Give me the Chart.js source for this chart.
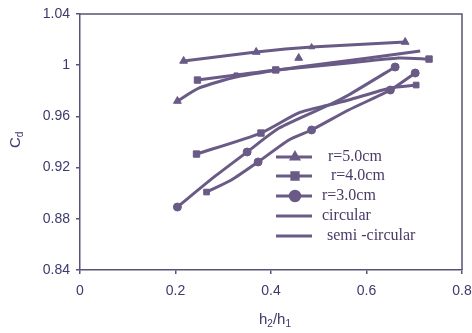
<!DOCTYPE html>
<html>
<head>
<meta charset="utf-8">
<script src="https://cdn.jsdelivr.net/npm/chart.js@4/dist/chart.umd.min.js"></script>
<style>
  html, body { margin: 0; padding: 0; background: #fff; }
  #wrap { width: 472px; height: 333px; position: relative; }
</style>
</head>
<body>
<div id="wrap"><canvas id="c"></canvas></div>
<script>
// Discharge coefficient Cd against depth ratio h2/h1

// Axis ticks
const xTicks = [0, 0.2, 0.4, 0.6, 0.8];
const xTickLabels = ['0', '0.2', '0.4', '0.6', '0.8'];
const yTicks = [0.84, 0.88, 0.92, 0.96, 1.0, 1.04];
const yTickLabels = ['0.84', '0.88', '0.92', '0.96', '1', '1.04'];

// r = 5.0 cm
const r5X = [0.217, 0.369, 0.485, 0.681];
const r5Y = [1.0033, 1.0103, 1.0142, 1.0181];
const r5ExtraX = [0.458];
const r5ExtraY = [1.0056];

// r = 4.0 cm
const r4X = [0.246, 0.327, 0.410, 0.5625, 0.667, 0.731];
const r4Y = [0.9884, 0.9923, 0.9963, 1.0017, 1.0056, 1.0048];
const r4LowX = [0.244, 0.379, 0.458, 0.521, 0.5625, 0.650, 0.704];
const r4LowY = [0.9306, 0.9470, 0.9627, 0.9689, 0.9728, 0.9822, 0.9845];

// r = 3.0 cm
const r3X = [0.204, 0.281, 0.350, 0.417, 0.521, 0.5625, 0.660];
const r3Y = [0.8892, 0.9127, 0.9322, 0.9509, 0.9689, 0.9767, 0.9986];

// circular
const circX = [0.204, 0.250, 0.327, 0.458, 0.604, 0.7125];
const circY = [0.9720, 0.9822, 0.9908, 0.9986, 1.0056, 1.0111];

// semi-circular
const semiX = [0.265, 0.317, 0.373, 0.4375, 0.485, 0.5625, 0.650, 0.702];
const semiY = [0.9009, 0.9103, 0.9244, 0.9416, 0.9494, 0.9650, 0.9806, 0.9939];

const pts = (xs, ys) => xs.map((x, i) => ({ x: x, y: ys[i] }));

const LINE = '#6a5a86';
const INK = '#3d3a6c';

const base = {
  borderColor: LINE,
  backgroundColor: LINE,
  borderWidth: 3,
  pointBorderWidth: 1,
  pointBorderColor: LINE,
  pointBackgroundColor: LINE,
  tension: 0.2,
  fill: false
};

const datasets = [
  Object.assign({}, base, { label: 'r=5.0cm', data: pts(r5X, r5Y), pointStyle: 'triangle', pointRadius: [4.5, 4.5, 3.5, 4.5] }),
  Object.assign({}, base, { label: 'r=4.0cm', data: pts(r4X, r4Y), pointStyle: 'rect', pointRadius: [4.5, 3, 4.5, 0, 0, 4.5] }),
  Object.assign({}, base, { label: 'r=3.0cm', data: pts(r3X, r3Y), pointStyle: 'circle', pointRadius: [4, 0, 4, 0, 0, 0, 4] }),
  Object.assign({}, base, { label: 'circular', data: pts(circX, circY), pointStyle: 'triangle', pointRadius: [4.5, 0, 0, 0, 0, 0] }),
  Object.assign({}, base, { label: 'semi -circular', data: pts(semiX, semiY),
    pointStyle: ['rect', 'circle', 'circle', 'circle', 'circle', 'circle', 'circle', 'circle'],
    pointRadius: [4, 0, 4, 0, 4, 0, 4, 4] }),
  Object.assign({}, base, { label: '', data: pts(r4LowX, r4LowY), pointStyle: 'rect', pointRadius: [4.5, 4.5, 0, 0, 0, 0, 4] }),
  Object.assign({}, base, { label: '', data: pts(r5ExtraX, r5ExtraY), showLine: false, pointStyle: 'triangle', pointRadius: 4.5 })
];

// Legend inside the plot, drawn from the named datasets
const legendRows = [157, 176, 196, 216, 236];
const legendTextX = [328, 331, 322, 322, 327];
const insideLegend = {
  id: 'insideLegend',
  afterDatasetsDraw(chart) {
    const ctx = chart.ctx;
    ctx.save();
    for (let i = 0; i < 5; i++) {
      const ds = chart.data.datasets[i];
      const y = legendRows[i];
      ctx.strokeStyle = ds.borderColor;
      ctx.lineWidth = 3;
      ctx.beginPath();
      ctx.moveTo(276, y);
      ctx.lineTo(312, y);
      ctx.stroke();
      if (i < 3) {
        ctx.fillStyle = LINE;
        ctx.strokeStyle = LINE;
        ctx.lineWidth = 1.5;
        Chart.helpers.drawPoint(ctx, { pointStyle: ds.pointStyle, radius: 5.5, borderWidth: 1.5 }, 295, y);
      }
      ctx.fillStyle = '#4a3a66';
      ctx.font = '16px "Liberation Serif", "Times New Roman", serif';
      ctx.textBaseline = 'middle';
      ctx.textAlign = 'left';
      ctx.fillText(ds.label, legendTextX[i], y);
    }
    ctx.restore();
  }
};

// Frame on top and right, plus axis titles with subscripts
const frameAndTitles = {
  id: 'frameAndTitles',
  afterDraw(chart) {
    const ctx = chart.ctx;
    const a = chart.chartArea;
    ctx.save();
    ctx.strokeStyle = '#5a5278';
    ctx.lineWidth = 1.5;
    ctx.beginPath();
    ctx.moveTo(a.left, a.top);
    ctx.lineTo(a.right, a.top);
    ctx.lineTo(a.right, a.bottom);
    ctx.stroke();

    ctx.fillStyle = INK;
    ctx.textBaseline = 'alphabetic';
    ctx.textAlign = 'left';
    const big = '15px "Liberation Sans", Arial, sans-serif';
    const small = '10px "Liberation Sans", Arial, sans-serif';

    // x title: h2/h1
    let x = 259, y = 324;
    ctx.font = big; ctx.fillText('h', x, y); x += ctx.measureText('h').width;
    ctx.font = small; ctx.fillText('2', x, y + 3); x += ctx.measureText('2').width;
    ctx.font = big; ctx.fillText('/h', x, y); x += ctx.measureText('/h').width;
    ctx.font = small; ctx.fillText('1', x, y + 3);

    // y title: Cd, rotated
    ctx.translate(20, 148);
    ctx.rotate(-Math.PI / 2);
    ctx.font = big; ctx.fillText('C', 0, 0);
    const w = ctx.measureText('C').width;
    ctx.font = small; ctx.fillText('d', w, 3);
    ctx.restore();
  }
};

new Chart(document.getElementById('c'), {
  type: 'line',
  data: { datasets: datasets },
  options: {
    responsive: true,
    maintainAspectRatio: false,
    animation: false,
    events: [],
    layout: { padding: { top: 14, right: 10, left: 0, bottom: 0 } },
    plugins: { legend: { display: false }, tooltip: { enabled: false } },
    scales: {
      x: {
        type: 'linear',
        min: 0, max: 0.8,
        afterBuildTicks: s => { s.ticks = xTicks.map(v => ({ value: v })); },
        afterFit: s => { s.height = 63; s.paddingLeft = 0; s.paddingRight = 0; },
        grid: { drawOnChartArea: false, drawTicks: true, tickLength: 4, color: '#5a5278', lineWidth: 1.5 },
        border: { color: '#5a5278', width: 1.5 },
        ticks: {
          color: INK,
          font: { family: '"Liberation Sans", Arial, sans-serif', size: 14 },
          padding: 9,
          maxRotation: 0,
          autoSkip: false,
          callback: (v, i) => xTickLabels[i]
        }
      },
      y: {
        type: 'linear',
        min: 0.84, max: 1.04,
        afterBuildTicks: s => { s.ticks = yTicks.map(v => ({ value: v })); },
        afterFit: s => { s.width = 80; s.paddingTop = 0; s.paddingBottom = 0; },
        grid: { drawOnChartArea: false, drawTicks: true, tickLength: 4, color: '#5a5278', lineWidth: 1.5 },
        border: { color: '#5a5278', width: 1.5 },
        ticks: {
          color: INK,
          font: { family: '"Liberation Sans", Arial, sans-serif', size: 14 },
          padding: 6,
          autoSkip: false,
          callback: (v, i) => yTickLabels[i]
        }
      }
    }
  },
  plugins: [insideLegend, frameAndTitles]
});
</script>
</body>
</html>
